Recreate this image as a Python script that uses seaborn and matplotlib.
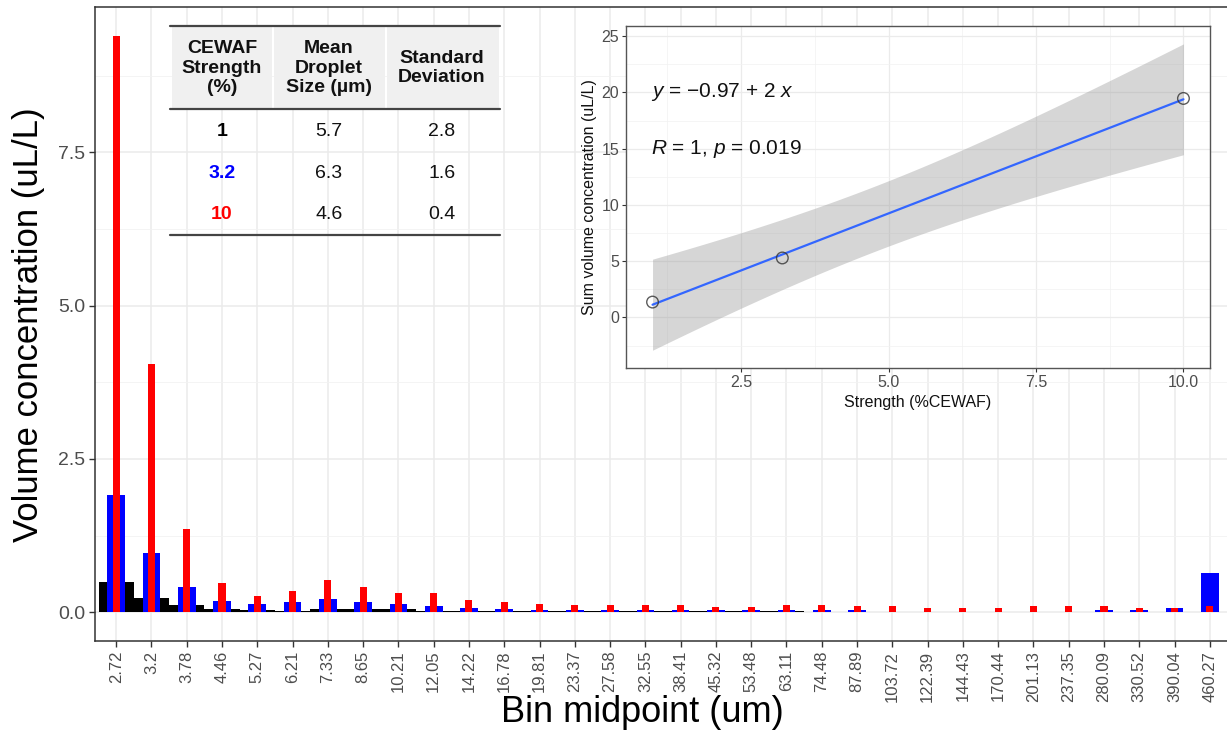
import numpy as np
import pandas as pd
import matplotlib
matplotlib.use("Agg")
import matplotlib.pyplot as plt
from matplotlib.patches import Rectangle
from matplotlib.lines import Line2D
import seaborn as sns

# ---------------- data ----------------
bins = ["2.72", "3.2", "3.78", "4.46", "5.27", "6.21", "7.33", "8.65", "10.21",
        "12.05", "14.22", "16.78", "19.81", "23.37", "27.58", "32.55", "38.41",
        "45.32", "53.48", "63.11", "74.48", "87.89", "103.72", "122.39", "144.43",
        "170.44", "201.13", "237.35", "280.09", "330.52", "390.04", "460.27"]

conc_1 = [0.50, 0.23, 0.11, 0.06, 0.03, 0.02, 0.06, 0.05, 0.05, 0.02, 0.02,
          0.025, 0.025, 0.025, 0.025, 0.025, 0.025, 0.025, 0.025, 0.025,
          0, 0, 0, 0, 0, 0, 0, 0, 0, 0, 0, 0]
conc_3_2 = [1.91, 0.97, 0.41, 0.18, 0.13, 0.16, 0.21, 0.16, 0.13, 0.10, 0.07,
            0.05, 0.03, 0.03, 0.03, 0.03, 0.03, 0.03, 0.03, 0.03, 0.03, 0.04,
            0, 0, 0, 0, 0, 0, 0.04, 0.04, 0.07, 0.64]
conc_10 = [9.40, 4.04, 1.35, 0.47, 0.27, 0.35, 0.53, 0.41, 0.32, 0.32, 0.20,
           0.17, 0.14, 0.11, 0.11, 0.11, 0.11, 0.08, 0.08, 0.11, 0.11, 0.10,
           0.10, 0.07, 0.07, 0.07, 0.10, 0.10, 0.10, 0.07, 0.07, 0.10]

series_labels = ["1", "3.2", "10"]
series_colors = ["#000000", "#0000FF", "#FF0000"]
series_widths = [1.0, 0.5, 0.2]

y_ticks = [0.0, 2.5, 5.0, 7.5]

# inset data
strength = [1.0, 3.2, 10.0]
sum_conc = [1.36, 5.28, 19.46]

# table data
table_header = ["CEWAF\nStrength\n(%)", "Mean\nDroplet\nSize (\u00b5m)", "Standard\nDeviation"]
table_strength = ["1", "3.2", "10"]
table_mean = ["5.7", "6.3", "4.6"]
table_sd = ["2.8", "1.6", "0.4"]

# ---------------- style ----------------
sns.set_theme(style="white")
plt.rcParams["font.family"] = ["Liberation Sans", "DejaVu Sans"]
plt.rcParams["mathtext.fontset"] = "custom"
plt.rcParams["mathtext.rm"] = "Liberation Sans"
plt.rcParams["mathtext.it"] = "Liberation Sans:italic"

W, H = 1227, 753
fig = plt.figure(figsize=(W / 100, H / 100), dpi=100)
fig.patch.set_facecolor("white")

def fx(px):
    return px / W

def fy(py):
    return 1 - py / H

# ---------------- main axes ----------------
ax = fig.add_axes([fx(95), fy(641), fx(1231) - fx(95), fy(7) - fy(641)])
ax.set_facecolor("white")

for vals, col, wd in zip([conc_1, conc_3_2, conc_10], series_colors, series_widths):
    df = pd.DataFrame({"bin": bins, "conc": vals})
    sns.barplot(data=df, x="bin", y="conc", order=bins, color=col, width=wd,
                saturation=1, errorbar=None, ax=ax, zorder=3, linewidth=0)

ax.set_xlim(-0.6, len(bins) - 1 + 0.6)
ax.set_ylim(-0.47, 9.87)
ax.set_yticks(y_ticks)
ax.set_yticklabels([f"{t:.1f}" for t in y_ticks])
ax.set_yticks([1.25, 3.75, 6.25, 8.75], minor=True)
ax.grid(True, which="major", axis="both", color="#EBEBEB", lw=1.1, zorder=0)
ax.grid(True, which="minor", axis="y", color="#F2F2F2", lw=0.6, zorder=0)
ax.set_axisbelow(True)
ax.tick_params(axis="x", which="major", labelrotation=90, labelsize=12,
               labelcolor="#4D4D4D", length=4, width=1, color="#333333",
               direction="out", bottom=True, pad=3)
ax.tick_params(axis="y", which="major", labelsize=14, labelcolor="#4D4D4D",
               length=4, width=1, color="#333333", direction="out", left=True, pad=3)
ax.tick_params(axis="y", which="minor", length=0)
for s in ax.spines.values():
    s.set_color("#333333")
    s.set_linewidth(1.1)
ax.set_xlabel("")
ax.set_ylabel("")

fig.text(fx(29), fy(325), "Volume concentration (uL/L)", rotation=90,
         ha="center", va="center", fontsize=25, color="black")
fig.text(fx(642), fy(713), "Bin midpoint (um)", ha="center", va="center",
         fontsize=26, color="black")

# ---------------- table ----------------
tax = fig.add_axes([0, 0, 1, 1])
tax.set_xlim(0, W)
tax.set_ylim(H, 0)
tax.axis("off")
tax.patch.set_alpha(0)

col_edges = [(172, 272), (274, 385), (387, 499)]
col_centers = [222, 329, 442]
for (x0, x1) in col_edges:
    tax.add_patch(Rectangle((x0, 27), x1 - x0, 82, facecolor="#F0F0F0",
                            edgecolor="none", zorder=1))
tax.add_line(Line2D([170, 500], [26, 26], color="#444444", lw=1.6, zorder=2))
tax.add_line(Line2D([170, 500], [109, 109], color="#444444", lw=1.6, zorder=2))
tax.add_line(Line2D([170, 500], [235, 235], color="#444444", lw=1.6, zorder=2))

for cx, txt in zip(col_centers, table_header):
    tax.text(cx, 68, txt, ha="center", va="center", fontsize=14,
             fontweight="bold", color="#111111", linespacing=1.2, zorder=3)

row_y = [131, 173, 214]
row_colors = series_colors
for ry, s, m, sd, rc in zip(row_y, table_strength, table_mean, table_sd, row_colors):
    tax.text(col_centers[0], ry, s, ha="center", va="center", fontsize=14,
             fontweight="bold", color=rc, zorder=3)
    tax.text(col_centers[1], ry, m, ha="center", va="center", fontsize=14,
             color="#111111", zorder=3)
    tax.text(col_centers[2], ry, sd, ha="center", va="center", fontsize=14,
             color="#111111", zorder=3)

# ---------------- inset ----------------
iax = fig.add_axes([fx(626), fy(368), fx(1210) - fx(626), fy(26) - fy(368)])
iax.set_facecolor("white")

xs = np.array(strength)
ys = np.array(sum_conc)
n = len(xs)
b1, b0 = np.polyfit(xs, ys, 1)
resid = ys - (b0 + b1 * xs)
s_err = np.sqrt(np.sum(resid ** 2) / (n - 2))
sxx = np.sum((xs - xs.mean()) ** 2)
t_crit = 12.706  # t(0.975, df=1)
xg = np.linspace(xs.min(), xs.max(), 100)
se_fit = s_err * np.sqrt(1 / n + (xg - xs.mean()) ** 2 / sxx)
yfit = b0 + b1 * xg
iax.fill_between(xg, yfit - t_crit * se_fit, yfit + t_crit * se_fit,
                 color="#999999", alpha=0.4, lw=0, zorder=2)

sns.regplot(x=xs, y=ys, ci=None, ax=iax, truncate=True,
            scatter_kws=dict(s=70, facecolors="none", edgecolors="#333333",
                             linewidths=1.0, zorder=4),
            line_kws=dict(color="#3366FF", lw=1.6, zorder=3))

iax.set_xlim(0.55, 10.45)
iax.set_ylim(-4.5, 25.9)
iax.set_xticks([2.5, 5.0, 7.5, 10.0])
iax.set_xticklabels(["2.5", "5.0", "7.5", "10.0"])
iax.set_xticks([1.25, 3.75, 6.25, 8.75], minor=True)
iax.set_yticks([0, 5, 10, 15, 20, 25])
iax.set_yticks([-2.5, 2.5, 7.5, 12.5, 17.5, 22.5], minor=True)
iax.grid(True, which="major", color="#EBEBEB", lw=0.9, zorder=0)
iax.grid(True, which="minor", color="#F2F2F2", lw=0.5, zorder=0)
iax.set_axisbelow(True)
iax.tick_params(axis="both", which="major", labelsize=11.5, labelcolor="#4D4D4D",
                length=3, width=0.8, color="#333333", direction="out",
                bottom=True, left=True, pad=2)
iax.tick_params(axis="both", which="minor", length=0)
for s in iax.spines.values():
    s.set_color("#555555")
    s.set_linewidth(1.0)
iax.set_xlabel("Strength (%CEWAF)", fontsize=11.5, color="#111111", labelpad=4)
iax.set_ylabel("Sum volume concentration (uL/L)", fontsize=11.5, color="#111111",
               labelpad=3)

iax.text(0.97, 20.0, "$y$ = \u22120.97 + 2 $x$", ha="left", va="center",
         fontsize=15, color="#111111", zorder=5)
iax.text(0.97, 15.0, "$R$ = 1, $p$ = 0.019", ha="left", va="center",
         fontsize=15, color="#111111", zorder=5)

fig.savefig("out.png", dpi=100, facecolor="white")
